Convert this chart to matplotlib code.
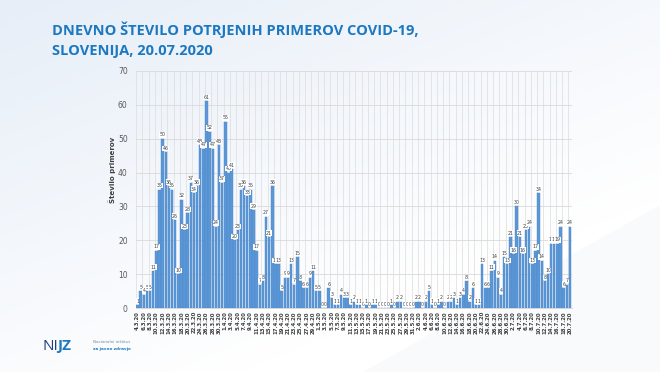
import numpy as np
import matplotlib
matplotlib.use("Agg")
import matplotlib.pyplot as plt
from matplotlib.patches import Polygon
import datetime as dt

title_line1 = "DNEVNO ŠTEVILO POTRJENIH PRIMEROV COVID-19,"
title_line2 = "SLOVENIJA, 20.07.2020"
ylabel = "Število primerov"

start = dt.date(2020, 3, 4)
values = [1, 5, 4, 5, 5, 11, 17, 35, 50, 46, 36, 35, 26, 10, 32, 23, 28, 37, 34, 36,
          48, 47, 61, 52, 47, 24, 48, 37, 55, 40, 41, 20, 23,
          35, 36, 33, 35, 29, 17, 7, 8, 27, 21, 36, 13, 13, 5, 9, 9, 13, 7, 15, 8,
          6, 6, 9, 11, 5, 5, 0, 0, 6, 3, 1, 1, 4, 3, 3, 1, 2, 1, 1, 0, 1, 0, 1, 1,
          0, 0, 0, 0, 1, 0, 2, 2, 0, 0, 0, 0, 2, 2, 0, 2, 5, 1, 0, 1, 2, 0,
          2, 2, 3, 1, 3, 4, 8, 2, 6, 1, 1, 13, 6, 6, 11, 14, 9, 4, 15, 13, 21, 16,
          30, 21, 16, 23, 24, 13, 17, 34, 14, 8, 10, 19, 19, 19, 24, 6, 7, 24]
dates = [start + dt.timedelta(days=i) for i in range(len(values))]
date_labels = [f"{d.day}.{d.month}.20" for d in dates]

W, H = 660, 372
fig = plt.figure(figsize=(W / 100, H / 100), dpi=100)

# background gradient
bg = fig.add_axes([0, 0, 1, 1], zorder=-10)
yy, xx = np.mgrid[0:1:200j, 0:1:300j]
t = np.clip(0.55 * (1 - xx) + 0.75 * (1 - yy) - 0.35, 0, 1)
c0 = np.array([1.0, 1.0, 1.0])
c1 = np.array([0.90, 0.93, 0.97])
img = c0[None, None, :] * (1 - t[..., None]) + c1[None, None, :] * t[..., None]
bg.imshow(img, extent=[0, 1, 0, 1], aspect='auto', origin='upper')
bg.add_patch(Polygon([[0.55, 0], [1, 0], [1, 0.45]], closed=True,
                     facecolor=(0.975, 0.98, 0.99), edgecolor='none'))
bg.set_xlim(0, 1)
bg.set_ylim(0, 1)
bg.axis('off')

ax = fig.add_axes([136 / W, 1 - 308.3 / H, (571.5 - 136) / W, (308.3 - 70.7) / H])
ax.set_facecolor('none')
x = np.arange(len(values))
ax.bar(x, values, width=0.78, color='#5b97d6', edgecolor='#4d88c8',
       linewidth=0.3, zorder=3)
for xi, v in zip(x, values):
    ax.text(xi, v + 0.4, str(v), ha='center', va='bottom', fontsize=3.4,
            color='#404040', zorder=4,
            bbox=dict(boxstyle='square,pad=0.06', facecolor='white', edgecolor='none'))

ax.set_xlim(-0.5, len(values) - 0.5)
ax.set_ylim(0, 70)
ax.set_yticks(range(0, 71, 10))
ax.tick_params(axis='y', labelsize=5.5, labelcolor='#595959', length=0, pad=6)
ax.set_xticks(x[::2])
ax.set_xticklabels(date_labels[::2], rotation=90, fontsize=3.9, fontweight='bold',
                   color='#404040')
ax.tick_params(axis='x', length=0, pad=2)
ax.set_xticks(np.arange(-0.5, len(values), 2), minor=True)
ax.grid(axis='y', color='#d9d9d9', linewidth=0.6, zorder=0)
ax.grid(axis='x', which='minor', color='#dcdcdc', linewidth=0.5, zorder=0)
ax.tick_params(axis='x', which='minor', length=0)
for s in ax.spines.values():
    s.set_visible(False)
ax.spines['bottom'].set_visible(True)
ax.spines['bottom'].set_color('#d0d0d0')
ax.spines['bottom'].set_linewidth(0.6)

fig.text(112 / W, 1 - 170 / H, ylabel, rotation=90, ha='center', va='center',
         fontsize=5, fontweight='bold', color='#404040')

fig.text(52 / W, 1 - 35 / H, title_line1, ha='left', va='baseline', fontsize=10.5,
         fontweight='bold', color='#1c78c0', family='Open Sans')
fig.text(52 / W, 1 - 55 / H, title_line2, ha='left', va='baseline', fontsize=10.5,
         fontweight='bold', color='#1c78c0', family='Open Sans')

# logo
fig.text(43 / W, 1 - 346 / H, "NI", ha='left', va='center', fontsize=11,
         color='#1e3f7a', family='Open Sans')
fig.text(57.5 / W, 1 - 346 / H, "JZ", ha='left', va='center', fontsize=11,
         color='#1c78c0', family='Open Sans', fontweight='bold')
fig.text(93 / W, 1 - 342 / H, "Nacionalni inštitut", ha='left', va='center',
         fontsize=3, color='#7a8aa0')
fig.text(93 / W, 1 - 349 / H, "za javno zdravje", ha='left', va='center',
         fontsize=3, color='#1c78c0', fontweight='bold')

fig.savefig("out.png", dpi=100)
